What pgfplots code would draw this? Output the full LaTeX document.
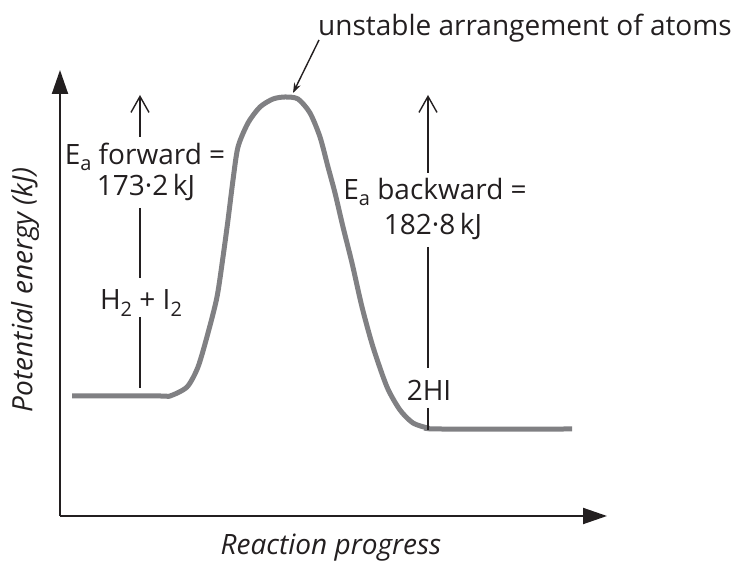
\documentclass[border=0pt]{standalone}
\usepackage{pgfplots}
\pgfplotsset{compat=1.18}
\usepackage{fontspec}
\setmainfont{Open Sans}
\usetikzlibrary{arrows.meta}
\definecolor{curvegray}{RGB}{128,128,131}
\definecolor{ink}{RGB}{35,31,32}
\tikzset{lbl/.style={font=\fontsize{14}{17}\selectfont, text=ink, inner sep=0pt}}
\newcommand\sub[1]{\raisebox{-0.45ex}{\fontsize{10}{10}\selectfont #1}}
\begin{document}
\begin{tikzpicture}
\begin{axis}[
  x=0.5pt, y=0.5pt,
  xmin=60, xmax=607, ymin=49, ymax=495,
  axis lines=left,
  axis line style={line width=1pt, color=ink},
  x axis line style={-{Triangle[length=12pt,width=8pt]}},
  y axis line style={-{Triangle[length=12pt,width=8pt]}},
  xtick=\empty, ytick=\empty,
  clip=false,
]
\path (axis cs:0,0) rectangle (axis cs:733,565);
\addplot[smooth, tension=0.45, line width=2.5pt, color=curvegray] coordinates {
(72,169) (160,169) (170,169) (187,178) (198,198) (208,232) (217,268) (223,308) (228,345) (233,385) (238,418)
(248,442) (260,458) (273,466) (285,468) (298,466) (310,452) (320,428) (328,398) (335,372) (343,338) (352,302)
(362,258) (373,218) (387,178) (400,155) (413,142) (428,137) (440,136) (572,136)
};
% forward arrow
\draw[line width=0.7pt, ink, -{Straight Barb[length=8pt,width=9pt]}] (axis cs:140,428) -- (axis cs:140,470);
\draw[line width=0.7pt, ink] (axis cs:140,357) -- (axis cs:140,287);
\draw[line width=0.7pt, ink] (axis cs:140,248) -- (axis cs:140,177);
\node[lbl] at (axis cs:145,408) {E\sub{a} forward =};
\node[lbl] at (axis cs:146,377) {173·2\,kJ};
\node[lbl] at (axis cs:141,262) {H\sub{2} + I\sub{2}};
% backward arrow
\draw[line width=0.7pt, ink, -{Straight Barb[length=8pt,width=9pt]}] (axis cs:428,392) -- (axis cs:428,470);
\draw[line width=0.7pt, ink] (axis cs:428,318) -- (axis cs:428,197);
\draw[line width=0.7pt, ink] (axis cs:428,157) -- (axis cs:428,135);
\node[lbl] at (axis cs:435,373) {E\sub{a} backward =};
\node[lbl] at (axis cs:433,338) {182·8\,kJ};
\node[lbl] at (axis cs:429,175) {2HI};
% transition state
\node[lbl] at (axis cs:525,537) {unstable arrangement of atoms};
\draw[line width=0.7pt, ink, -{Stealth[length=5pt,width=3.5pt]}] (axis cs:319,525) -- (axis cs:293,472);
% axis labels
\node[lbl, rotate=90] at (axis cs:25,275) {\itshape Potential energy (kJ)};
\node[lbl] at (axis cs:331,17) {\itshape Reaction progress};
\end{axis}
\end{tikzpicture}
\end{document}
